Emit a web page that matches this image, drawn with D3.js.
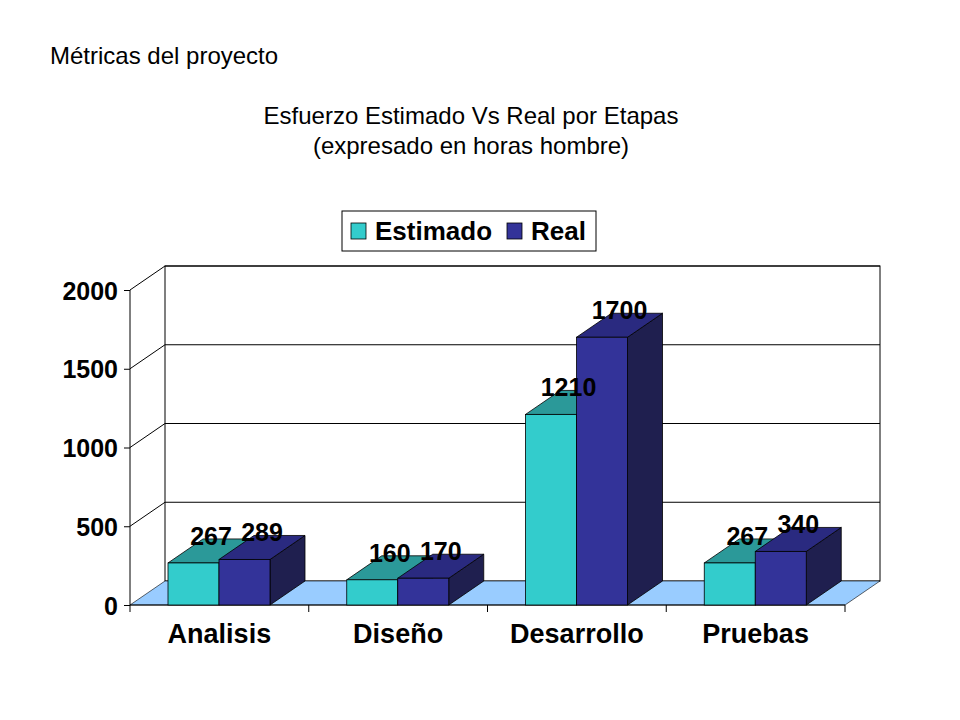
<!DOCTYPE html>
<html>
<head>
<meta charset="utf-8">
<script src="https://cdn.jsdelivr.net/npm/d3@7"></script>
<style>
  body { margin: 0; background: #fff; }
  text { font-family: 'Liberation Sans', Arial, sans-serif; }
</style>
</head>
<body>
<div id="chart"></div>
<script>
// Data
const stages = ['Analisis', 'Diseño', 'Desarrollo', 'Pruebas']
const series = ['Estimado', 'Real']
const estimado = [267, 160, 1210, 267]
const real = [289, 170, 1700, 340]
const yTicks = [0, 500, 1000, 1500, 2000]

const width = 960
const height = 720

// 3D depth offset of the plot box
const dx = 35
const dy = -24

const colors = {
  Estimado: { front: '#33cccc', top: '#2b9999', side: '#1f6f6f' },
  Real: { front: '#333399', top: '#2a2a80', side: '#1f1f4f' }
}

const svg = d3
  .select('#chart')
  .append('svg')
  .attr('width', width)
  .attr('height', height)

// Titles
svg.append('text')
  .attr('x', 50).attr('y', 64)
  .style('font-size', '24px')
  .text('Métricas del proyecto')

svg.append('text')
  .attr('x', 471).attr('y', 124)
  .attr('text-anchor', 'middle')
  .style('font-size', '24px')
  .text('Esfuerzo Estimado Vs Real por Etapas')

svg.append('text')
  .attr('x', 471).attr('y', 154)
  .attr('text-anchor', 'middle')
  .style('font-size', '24px')
  .text('(expresado en horas hombre)')

// Scales
const x = d3.scaleBand().domain(stages).range([130, 845])
const xs = d3.scaleBand().domain(series).range([38, 140])
const y = d3.scaleLinear().domain([0, 2000]).range([605, 290])

const rows = stages.map((s, i) => ({ stage: s, Estimado: estimado[i], Real: real[i] }))

// Back wall
const x0 = x.range()[0]
const x1 = x.range()[1]
svg.append('rect')
  .attr('x', x0 + dx).attr('y', y(2000) + dy)
  .attr('width', x1 - x0).attr('height', y(0) - y(2000))
  .attr('fill', '#fff').attr('stroke', '#000').attr('stroke-width', 1)

// Gridlines on back wall and side wall
yTicks.filter((t) => t > 0).forEach((t) => {
  svg.append('line')
    .attr('x1', x0 + dx).attr('x2', x1 + dx)
    .attr('y1', y(t) + dy).attr('y2', y(t) + dy)
    .attr('stroke', '#000')
  svg.append('line')
    .attr('x1', x0).attr('x2', x0 + dx)
    .attr('y1', y(t)).attr('y2', y(t) + dy)
    .attr('stroke', '#000')
})

// Floor
svg.append('polygon')
  .attr('points', [[x0, y(0)], [x1, y(0)], [x1 + dx, y(0) + dy], [x0 + dx, y(0) + dy]].join(' '))
  .attr('fill', '#99ccff').attr('stroke', '#000').attr('stroke-width', 0.6)

// Y axis
const yAxis = d3.axisLeft(y).tickValues(yTicks).tickSize(6).tickPadding(6).tickFormat(d3.format('d'))
const yg = svg.append('g').attr('transform', `translate(${x0},0)`).call(yAxis)
yg.select('.domain').attr('d', `M-0,${y(2000)}V${y(0)}`)
yg.selectAll('text')
  .style('font-size', '25px').style('font-weight', 'bold')
  .style('font-family', "'Liberation Sans', Arial, sans-serif")
  .attr('dy', '0.36em')

// X axis
const xAxis = d3.axisBottom(x).tickSize(0).tickPadding(19)
const xg = svg.append('g').attr('transform', `translate(0,${y(0)})`).call(xAxis)
xg.select('.domain').attr('d', `M${x0},0H${x1}`)
xg.selectAll('text')
  .style('font-size', '27px').style('font-weight', 'bold')
  .style('font-family', "'Liberation Sans', Arial, sans-serif")
  .attr('dy', '0.71em')
// category separator ticks
xg.selectAll('.sep')
  .data(stages.concat(['end']))
  .join('line')
  .attr('class', 'sep')
  .attr('x1', (d, i) => (i < stages.length ? x(d) : x1))
  .attr('x2', (d, i) => (i < stages.length ? x(d) : x1))
  .attr('y1', 0).attr('y2', 7)
  .attr('stroke', '#000')

// Bars (3D boxes)
const bars = []
rows.forEach((r) => {
  series.forEach((s) => {
    bars.push({ stage: r.stage, series: s, value: r[s] })
  })
})

const bw = xs.bandwidth()
const barG = svg.append('g')
bars.forEach((b) => {
  const bx = x(b.stage) + xs(b.series)
  const top = y(b.value)
  const base = y(0)
  const c = colors[b.series]
  const g = barG.append('g')
  // side face
  g.append('polygon')
    .attr('points', [[bx + bw, top], [bx + bw + dx, top + dy], [bx + bw + dx, base + dy], [bx + bw, base]].join(' '))
    .attr('fill', c.side).attr('stroke', '#000').attr('stroke-width', 0.8)
  // top face
  g.append('polygon')
    .attr('points', [[bx, top], [bx + bw, top], [bx + bw + dx, top + dy], [bx + dx, top + dy]].join(' '))
    .attr('fill', c.top).attr('stroke', '#000').attr('stroke-width', 0.8)
  // front face
  g.append('rect')
    .attr('x', bx).attr('y', top)
    .attr('width', bw).attr('height', base - top)
    .attr('fill', c.front).attr('stroke', '#000').attr('stroke-width', 0.8)
})

// Value labels
svg.append('g')
  .selectAll('text')
  .data(bars)
  .join('text')
  .attr('x', (d) => x(d.stage) + xs(d.series) + bw / 2 + dx / 2)
  .attr('y', (d) => y(d.value) + dy + 6)
  .attr('text-anchor', 'middle')
  .style('font-size', '25px')
  .style('font-weight', 'bold')
  .text((d) => d.value)

// Legend
const legend = svg.append('g').attr('transform', 'translate(342,211)')
legend.append('rect')
  .attr('width', 254).attr('height', 40)
  .attr('fill', '#fff').attr('stroke', '#000').attr('stroke-width', 1)
const legendX = [9, 165]
series.forEach((s, i) => {
  legend.append('rect')
    .attr('x', legendX[i]).attr('y', 12)
    .attr('width', 15).attr('height', 16)
    .attr('fill', colors[s].front).attr('stroke', '#000').attr('stroke-width', 0.8)
  legend.append('text')
    .attr('x', legendX[i] + 24).attr('y', 29)
    .style('font-size', '26px').style('font-weight', 'bold')
    .text(s)
})
</script>
</body>
</html>
